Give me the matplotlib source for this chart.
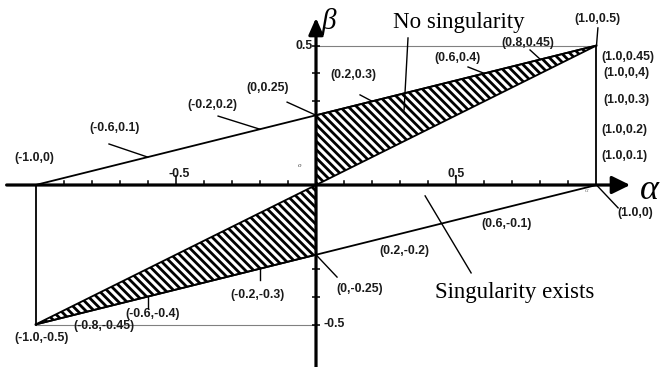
import matplotlib.pyplot as plt
from matplotlib.patches import Polygon

plt.rcParams["hatch.linewidth"] = 2.0

# straight boundaries beta = (alpha + 1) / 4 and beta = (alpha - 1) / 4
line_a = [-1.0, 1.0]
upper_b = [0.0, 0.5]
lower_b = [-0.5, 0.0]

# side edges at alpha = +/-1
right_edge_b = [0.0, 0.5]
left_edge_b = [-0.5, 0.0]

# hatched "no singularity" zones
zone_up_a = [0.0, 0.0, 1.0]
zone_up_b = [0.0, 0.25, 0.5]
zone_dn_a = [0.0, 0.0, -1.0]
zone_dn_b = [0.0, -0.25, -0.5]

x_ticks = [-0.9, -0.8, -0.7, -0.6, -0.5, -0.4, -0.3, -0.2, -0.1,
           0.1, 0.2, 0.3, 0.4, 0.5, 0.6, 0.7, 0.8, 0.9]
y_ticks = [0.3, 0.4, 0.5, -0.3, -0.4, -0.5]

labels = ["(-1.0,0)", "(-0.6,0.1)", "(-0.2,0.2)", "(0,0.25)", "(0.2,0.3)",
          "(0.6,0.4)", "(0.8,0.45)", "(1.0,0.5)", "(1.0,0.45)", "(1.0,0,4)",
          "(1.0,0.3)", "(1.0,0.2)", "(1.0,0.1)", "(1.0,0)", "(0.6,-0.1)",
          "(0.2,-0.2)", "(0,-0.25)", "(-0.2,-0.3)", "(-0.6,-0.4)",
          "(-0.8,-0.45)", "(-1.0,-0.5)"]
label_a = [-1.0, -0.6, -0.2, 0.0, 0.2, 0.6, 0.8, 1.0, 1.0, 1.0, 1.0, 1.0, 1.0,
           1.0, 0.6, 0.2, 0.0, -0.2, -0.6, -0.8, -1.0]
label_b = [0.0, 0.1, 0.2, 0.25, 0.3, 0.4, 0.45, 0.5, 0.45, 0.4, 0.3, 0.2, 0.1,
           0.0, -0.1, -0.2, -0.25, -0.3, -0.4, -0.45, -0.5]

# where each label sits, and where its leader line starts (None = no leader)
text_pos = [(-1.005, 0.097, "center"), (-0.717, 0.204, "center"),
            (-0.371, 0.287, "center"), (-0.171, 0.348, "center"),
            (0.132, 0.394, "center"), (0.503, 0.455, "center"),
            (0.756, 0.509, "center"), (1.005, 0.595, "center"),
            (1.018, 0.458, "left"), (1.024, 0.402, "left"),
            (1.026, 0.305, "left"), (1.018, 0.197, "left"),
            (1.018, 0.104, "left"), (1.137, -0.100, "center"),
            (0.681, -0.140, "center"), (0.314, -0.237, "center"),
            (0.157, -0.373, "center"), (-0.210, -0.394, "center"),
            (-0.581, -0.462, "center"), (-0.756, -0.505, "center"),
            (-0.977, -0.548, "center")]
leader_from = [None, (-0.738, 0.147), (-0.349, 0.247), (-0.103, 0.297),
               (0.157, 0.323), (0.542, 0.423), (0.763, 0.484), (1.005, 0.563),
               None, None, None, None, None, (1.077, -0.082), None, None,
               (0.075, -0.330), (-0.2, -0.341), (-0.6, -0.441), None, None]

fig = plt.figure(figsize=(6.6, 3.67), dpi=100)
ax = fig.add_axes([0, 0, 1, 1])
ax.set_xlim(-1.1266, 1.2264)
ax.set_ylim(-0.6523, 0.6631)
ax.axis("off")

lab_font = dict(family="Liberation Sans", fontweight="bold", fontsize=8.8,
                color="#1a1a1a")
serif = "Liberation Serif"
stripes = chr(92) * 4  # dense "\" hatch

# hatched zones
for za, zb in [(zone_up_a, zone_up_b), (zone_dn_a, zone_dn_b)]:
    ax.add_patch(Polygon(list(zip(za, zb)), closed=True, facecolor="white",
                         edgecolor="black", hatch=stripes, lw=1.3, zorder=2))

# reference grey lines at beta = +/-0.5
ax.plot([0, line_a[1]], [upper_b[1], upper_b[1]], color="#808080", lw=0.8, zorder=1)
ax.plot([line_a[0], 0], [lower_b[0], lower_b[0]], color="#808080", lw=0.8, zorder=1)

# boundary lines
ax.plot(line_a, upper_b, color="black", lw=1.3, zorder=3)
ax.plot(line_a, lower_b, color="black", lw=1.3, zorder=3)
ax.plot([line_a[1]] * 2, right_edge_b, color="black", lw=1.3, zorder=3)
ax.plot([line_a[0]] * 2, left_edge_b, color="black", lw=1.3, zorder=3)

# axes with arrows
ax.annotate("", xy=(1.12, 0), xytext=(-1.103, 0),
            arrowprops=dict(arrowstyle="-|>,head_length=0.55,head_width=0.27",
                            mutation_scale=20, lw=2.3, color="black",
                            shrinkA=0, shrinkB=0), zorder=4)
ax.annotate("", xy=(0, 0.599), xytext=(0, -0.66),
            arrowprops=dict(arrowstyle="-|>,head_length=0.5,head_width=0.22",
                            mutation_scale=20, lw=2.3, color="black",
                            shrinkA=0, shrinkB=0), zorder=4)

# ticks
for t in x_ticks:
    h = 0.034 if abs(abs(t) - 0.5) < 1e-9 else 0.016
    ax.plot([t, t], [0, h], color="black", lw=1.1, zorder=4)
ax.hlines(y_ticks, -0.016, 0.016, color="black", lw=1.1, zorder=4)

ax.text(-0.488, 0.039, "-0.5", ha="center", va="center", **lab_font)
ax.text(0.50, 0.039, "0,5", ha="center", va="center", **lab_font)
ax.text(-0.01, 0.5, "0.5", ha="right", va="center", **lab_font)
ax.text(0.028, -0.498, "-0.5", ha="left", va="center", **lab_font)

ax.text(0.045, 0.585, "β", family=serif, style="italic", fontsize=21,
        ha="center", va="center")
ax.text(1.19, -0.02, "α", family=serif, style="italic", fontsize=26,
        ha="center", va="center")
ax.text(-0.06, 0.069, "o", family=serif, style="italic", fontsize=5,
        ha="center", va="center", color="#444444")
ax.text(0.965, -0.018, "α", family=serif, style="italic", fontsize=5,
        ha="center", va="center", color="#888888")

# point labels
for i, txt in enumerate(labels):
    tx, ty, ha = text_pos[i]
    ax.text(tx, ty, txt, ha=ha, va="center", zorder=5, **lab_font)
    if leader_from[i] is not None:
        sx, sy = leader_from[i]
        ax.plot([sx, label_a[i]], [sy, label_b[i]], color="black", lw=1.0, zorder=5)

# region annotations
ax.text(0.510, 0.584, "No singularity", family=serif, fontsize=16.5,
        ha="center", va="center")
ax.plot([0.328, 0.314], [0.527, 0.269], color="black", lw=1.0, zorder=5)
ax.text(0.709, -0.384, "Singularity exists", family=serif, fontsize=16.5,
        ha="center", va="center")
ax.plot([0.553, 0.389], [-0.315, -0.039], color="black", lw=1.0, zorder=5)

fig.savefig("out.png", dpi=100)
